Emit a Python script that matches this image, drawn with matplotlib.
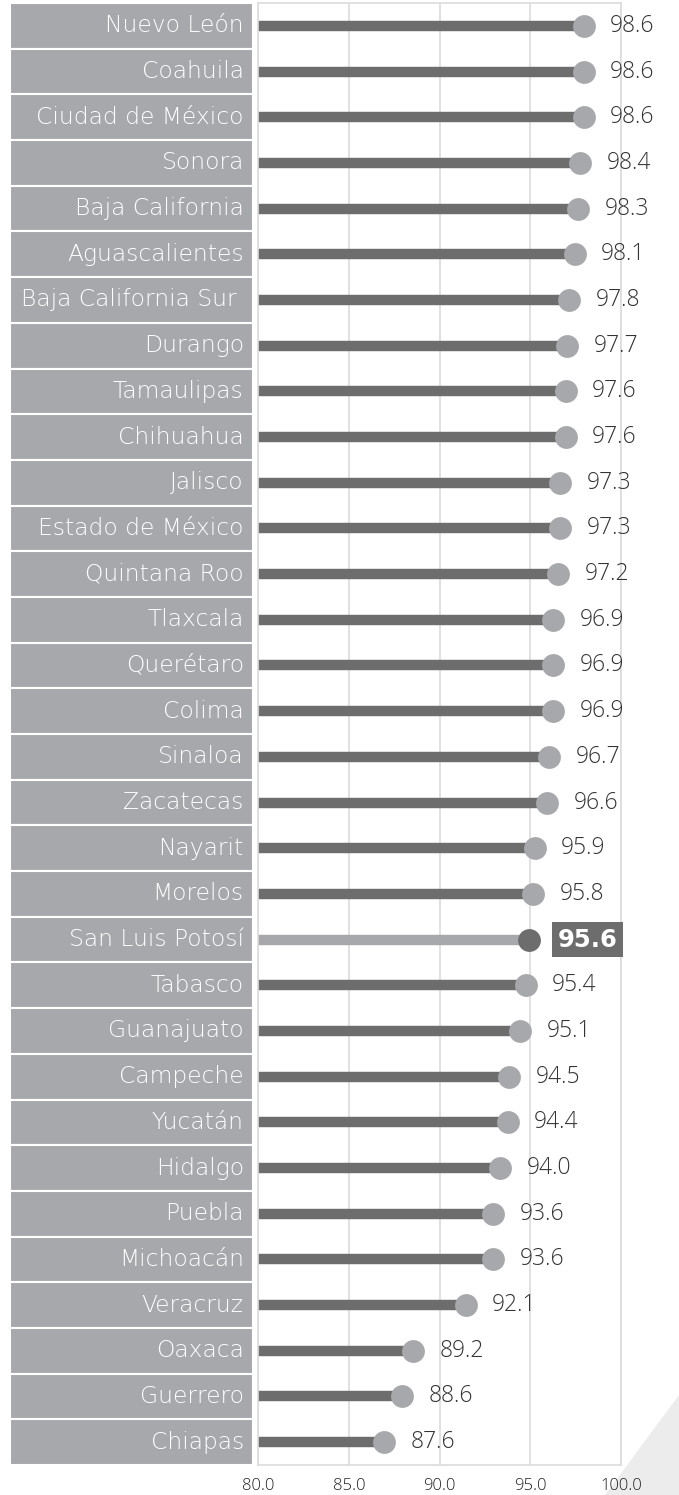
import matplotlib as mpl
from matplotlib import pyplot as plt
from matplotlib.patches import Polygon
import numpy as np

states = ["Nuevo León", "Coahuila", "Ciudad de México", "Sonora", "Baja California",
          "Aguascalientes", "Baja California Sur ", "Durango", "Tamaulipas", "Chihuahua",
          "Jalisco", "Estado de México", "Quintana Roo", "Tlaxcala", "Querétaro", "Colima",
          "Sinaloa", "Zacatecas", "Nayarit", "Morelos", "San Luis Potosí", "Tabasco",
          "Guanajuato", "Campeche", "Yucatán", "Hidalgo", "Puebla", "Michoacán",
          "Veracruz", "Oaxaca", "Guerrero", "Chiapas"]
values = [98.6, 98.6, 98.6, 98.4, 98.3, 98.1, 97.8, 97.7, 97.6, 97.6, 97.3, 97.3, 97.2,
          96.9, 96.9, 96.9, 96.7, 96.6, 95.9, 95.8, 95.6, 95.4, 95.1, 94.5, 94.4, 94.0,
          93.6, 93.6, 92.1, 89.2, 88.6, 87.6]
highlight = "San Luis Potosí"
xticks = [80, 85, 90, 95, 100]

DARK = "#6d6d6d"
LIGHT = "#a7a8ac"
GRID = "#dcdcdc"
plt.rcParams['font.family'] = ['DejaVu Sans']

fig = plt.figure(figsize=(6.79, 14.95), dpi=100)
W, H = 679, 1495
top, bot = 3, 1465

# Left label panel
axl = fig.add_axes([10 / W, 1 - bot / H, 243 / W, (bot - top) / H])
y = np.arange(len(states))
axl.barh(y, [1] * len(states), height=1, left=0, color=LIGHT, edgecolor="white", linewidth=1.5)
for i, s in enumerate(states):
    axl.text(0.962, i, s, ha="right", va="center", color="white", fontsize=16.8,
             fontweight="light")
axl.set_xlim(0, 1)
axl.set_ylim(len(states) - 0.5, -0.5)
axl.axis("off")

# Lollipop chart
ax = fig.add_axes([258 / W, 1 - bot / H, 363 / W, (bot - top) / H])
off = -0.65  # dots sit slightly left of the value on the source chart
for i, (s, v) in enumerate(zip(states, values)):
    hl = s == highlight
    ax.plot([80, v + off], [i, i], color=LIGHT if hl else DARK, lw=7.5,
            solid_capstyle="butt", zorder=2)
    ax.scatter(v + off, i, s=270, color=DARK if hl else LIGHT, zorder=3, linewidths=0)
    if hl:
        ax.text(v + off + 1.55, i, f"{v:.1f}", ha="left", va="center", fontsize=17.5,
                fontweight="bold", color="white",
                bbox=dict(boxstyle="square,pad=0.22", fc=DARK, ec="none"))
    else:
        ax.text(v + off + 1.45, i, f"{v:.1f}", ha="left", va="center", fontsize=16.5,
                color="#333333", zorder=4, family="Open Sans", fontweight="light")

ax.set_xlim(80, 100)
ax.set_ylim(len(states) - 0.5, -0.5)
ax.set_xticks(xticks)
ax.set_xticklabels([f"{t:.1f}" for t in xticks], fontsize=12, color="#222222",
                   family="Open Sans", fontweight="light")
ax.set_yticks([])
ax.tick_params(axis="x", length=0, pad=9)
ax.grid(axis="x", color=GRID, lw=1.2, zorder=0)
ax.set_axisbelow(True)
for sp in ax.spines.values():
    sp.set_color(GRID)
    sp.set_linewidth(1.2)

# decorative corner
tri = Polygon([[605 / W, 0], [1, 0], [1, 100 / H]], closed=True,
              transform=fig.transFigure, fc="#ececec", ec="none", zorder=-1)
fig.patches.append(tri)

fig.savefig("out.png", dpi=100, facecolor="white")
